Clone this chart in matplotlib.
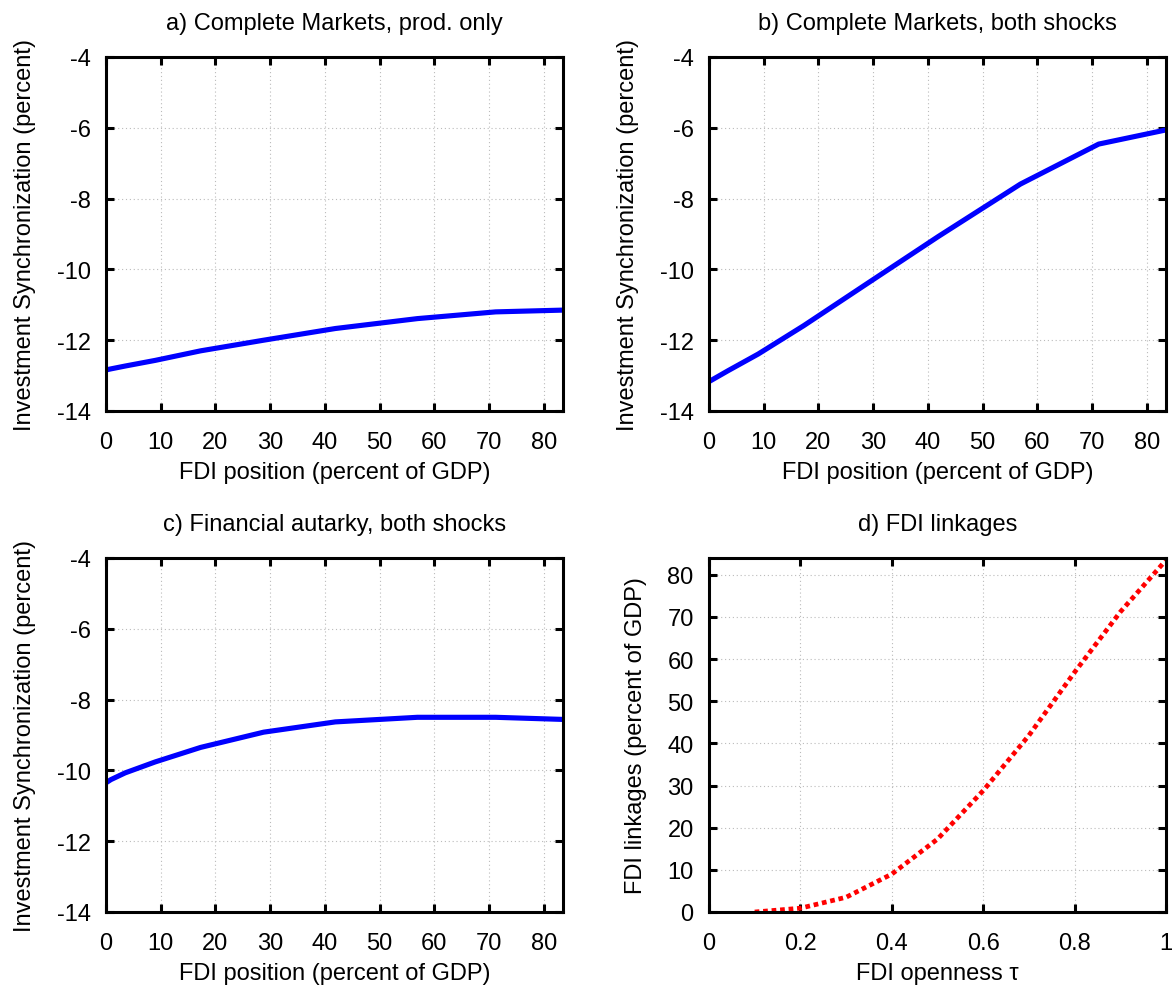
import matplotlib
matplotlib.use('Agg')
import matplotlib.pyplot as plt

plt.rcParams['font.family'] = ['Liberation Sans', 'DejaVu Sans']
plt.rcParams['mathtext.fontset'] = 'dejavusans'
plt.rcParams['axes.unicode_minus'] = False

# FDI openness grid and the FDI position it implies (percent of GDP)
tau = [0.1, 0.2, 0.3, 0.4, 0.5, 0.6, 0.7, 0.8, 0.9, 1.0]
fdi_pos = [0.0, 0.9, 3.5, 9.0, 17.3, 28.8, 41.9, 56.9, 71.2, 83.5]

# investment synchronization (percent)
sync_cm_prod = [-12.84, -12.81, -12.73, -12.57, -12.30, -12.00, -11.67, -11.39, -11.20, -11.15]
sync_cm_both = [-13.17, -13.09, -12.86, -12.39, -11.59, -10.41, -9.07, -7.59, -6.46, -6.06]
sync_aut_both = [-10.35, -10.26, -10.07, -9.76, -9.35, -8.92, -8.63, -8.50, -8.50, -8.56]

titles = ['a) Complete Markets, prod. only',
          'b) Complete Markets, both shocks',
          'c) Financial autarky, both shocks',
          'd) FDI linkages']

fig = plt.figure(figsize=(11.72, 9.87), dpi=100)

W, H = 1172.0, 987.0
boxes = [(106, 58, 563, 412), (709, 58, 1166, 412),
         (106, 559, 563, 913), (709, 559, 1166, 913)]
axes = []
for l, t, r, b in boxes:
    axes.append(fig.add_axes([l / W, (H - b) / H, (r - l) / W, (b - t) / H]))

FS = 17


def style(ax):
    for s in ax.spines.values():
        s.set_linewidth(2.2)
    ax.tick_params(direction='in', length=6, width=2.2, top=True, right=True,
                   labelsize=FS)
    ax.tick_params(axis='x', pad=14.5)
    ax.tick_params(axis='y', pad=11)
    ax.grid(True, linestyle=(0, (1, 2.5)), color='#bbbbbb', linewidth=0.8)
    ax.set_axisbelow(True)


for ax, ys, title in zip(axes[:3], [sync_cm_prod, sync_cm_both, sync_aut_both], titles[:3]):
    ax.plot(fdi_pos, ys, color='#0000ff', linewidth=3.7, solid_capstyle='butt')
    ax.set_xlim(0, 83.5)
    ax.set_ylim(-14, -4)
    ax.set_xticks(range(0, 90, 10))
    ax.set_yticks(range(-14, -3, 2))
    ax.set_title(title, fontsize=FS, pad=20.5)
    ax.set_xlabel('FDI position (percent of GDP)', fontsize=FS, labelpad=6)
    ax.set_ylabel('Investment Synchronization (percent)', fontsize=FS, labelpad=15)
    style(ax)

ax = axes[3]
ax.plot(tau, fdi_pos, color='#ff0000', linewidth=3.4, linestyle=(0, (1, 0.8)))
ax.set_xlim(0, 1)
ax.set_ylim(0, 84)
ax.set_xticks([0, 0.2, 0.4, 0.6, 0.8, 1])
ax.set_xticklabels(['0', '0.2', '0.4', '0.6', '0.8', '1'])
ax.set_yticks(range(0, 90, 10))
ax.set_title(titles[3], fontsize=FS, pad=20.5)
ax.set_xlabel('FDI openness \u03c4', fontsize=FS, labelpad=6)
ax.set_ylabel('FDI linkages (percent of GDP)', fontsize=FS, labelpad=15)
style(ax)

fig.savefig('out.png', dpi=100)
